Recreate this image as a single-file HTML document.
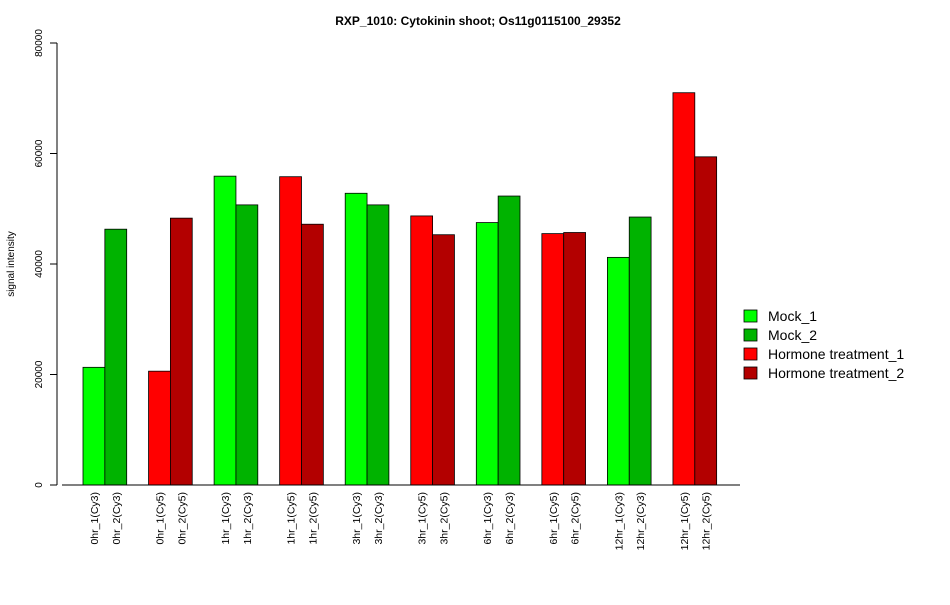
<!DOCTYPE html>
<html><head><meta charset="utf-8"><style>
body{margin:0;background:#fff}
svg{font-family:"Liberation Sans",Arial,sans-serif}
</style></head><body>
<svg width="950" height="600" viewBox="0 0 950 600">
<text x="478" y="25" text-anchor="middle" font-size="12" font-weight="bold">RXP_1010: Cytokinin shoot; Os11g0115100_29352</text>
<text transform="translate(14,264) rotate(-90)" text-anchor="middle" font-size="10">signal intensity</text>
<g id="yaxis"></g>
<g id="bars"></g>
<g id="xlabels"></g>
<line x1="62" y1="485" x2="740" y2="485" stroke="#000"/>
<g id="legend"></g>
</svg>
<script>
const categories=["0hr_1(Cy3)","0hr_2(Cy3)","0hr_1(Cy5)","0hr_2(Cy5)","1hr_1(Cy3)","1hr_2(Cy3)","1hr_1(Cy5)","1hr_2(Cy5)","3hr_1(Cy3)","3hr_2(Cy3)","3hr_1(Cy5)","3hr_2(Cy5)","6hr_1(Cy3)","6hr_2(Cy3)","6hr_1(Cy5)","6hr_2(Cy5)","12hr_1(Cy3)","12hr_2(Cy3)","12hr_1(Cy5)","12hr_2(Cy5)"];
const values=[21300,46300,20600,48300,55900,50700,55800,47200,52800,50700,48700,45300,47500,52300,45500,45700,41200,48500,71000,59400];
const seriesIndex=[0,1,2,3,0,1,2,3,0,1,2,3,0,1,2,3,0,1,2,3];
const seriesNames=["Mock_1","Mock_2","Hormone treatment_1","Hormone treatment_2"];
const seriesColors=["#00ff00","#00b300","#ff0000","#b30000"];
const yTicks=[0,20000,40000,60000,80000];
const NS="http://www.w3.org/2000/svg";
const y0=485,yTop=43,yMax=80000;
const yS=v=>y0-(v/yMax)*(y0-yTop);
const bw=21.85,x0=83;
const xS=i=>x0+Math.floor(i/2)*3*bw+(i%2)*bw;
function mk(t,a,p){const e=document.createElementNS(NS,t);for(const k in a)e.setAttribute(k,a[k]);p.appendChild(e);return e;}
const ya=document.getElementById('yaxis');
const al=mk('line',{x1:57,x2:57,y1:yS(0),y2:yS(80000),stroke:'#000'},ya);


yTicks.forEach(v=>{
 const tk=mk('line',{x1:50,x2:57,y1:yS(v),y2:yS(v),stroke:'#000'},ya);
 
 
 const t=mk('text',{transform:`translate(42,${yS(v)}) rotate(-90)`,'text-anchor':'middle','font-size':'10'},ya);
 t.textContent=v;
 
 
});
const bg=document.getElementById('bars'),xl=document.getElementById('xlabels');
values.forEach((v,i)=>{
 const x=xS(i);
 const r=mk('rect',{x:x,y:yS(v),width:bw,height:y0-yS(v),fill:seriesColors[seriesIndex[i]],stroke:'#000','stroke-width':0.8},bg);
 
 
 const t=mk('text',{transform:`translate(${x+bw/2+4},492) rotate(-90)`,'text-anchor':'end','font-size':'10.5'},xl);
 t.textContent=categories[i];
 
 
});
const lg=document.getElementById('legend');
seriesNames.forEach((n,i)=>{
 const yy=316+i*19;
 const b=mk('rect',{x:744,y:yy-6,width:13,height:12,fill:seriesColors[i],stroke:'#000','stroke-width':0.8},lg);
 
 
 const t=mk('text',{x:768,y:yy+5,'font-size':'14'},lg);
 t.textContent=n;
 
 
});
</script>
</body></html>
